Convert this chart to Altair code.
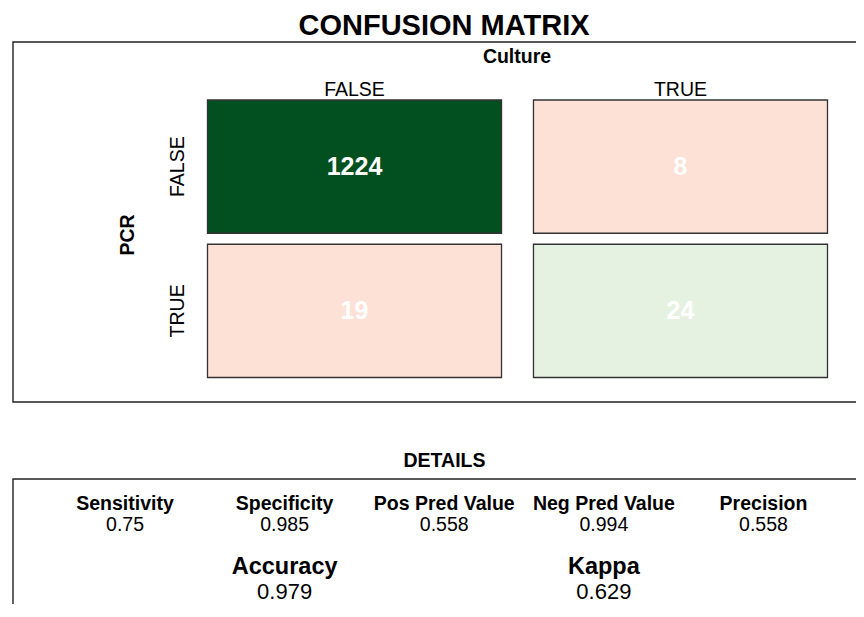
import altair as alt
import pandas as pd

# ---------------- data ----------------
culture_levels = ["FALSE", "TRUE"]
pcr_levels = ["FALSE", "TRUE"]
cell_culture = ["FALSE", "TRUE", "FALSE", "TRUE"]
cell_pcr = ["FALSE", "FALSE", "TRUE", "TRUE"]
cell_counts = [1224, 8, 19, 24]

detail_names = ["Sensitivity", "Specificity", "Pos Pred Value", "Neg Pred Value", "Precision"]
detail_values = [0.75, 0.985, 0.558, 0.994, 0.558]
overall_names = ["Accuracy", "Kappa"]
overall_values = [0.979, 0.629]

# ---------------- styles ----------------
FONT = "Liberation Sans"
cell_keys = [c + "|" + p for c, p in zip(cell_culture, cell_pcr)]
cell_colors = ["#024f20", "#fde1d6", "#fde1d6", "#e6f2e1"]

cells = pd.DataFrame({"Culture": cell_culture, "PCR": cell_pcr,
                      "count": cell_counts, "key": cell_keys})
cols = pd.DataFrame({"Culture": culture_levels})
rows = pd.DataFrame({"PCR": pcr_levels})
details = pd.DataFrame({"name": detail_names, "value": detail_values,
                        "col": list(range(1, len(detail_names) + 1))})
overall = pd.DataFrame({"name": overall_names, "value": overall_values,
                        "col": [2, 4]})

x_cell = alt.Scale(type="band", domain=culture_levels, range=[199.5, 819.5],
                   paddingInner=0.098, paddingOuter=0)
y_cell = alt.Scale(type="band", domain=pcr_levels, range=[92, 369.5],
                   paddingInner=0.076, paddingOuter=0)
x_det = alt.Scale(type="linear", domain=[1, 5], range=[117, 755.5], zero=False, nice=False)

one = alt.Data(values=[{"t": ""}])

def label(text, x, y, size, bold=False, angle=0):
    return alt.Chart(alt.Data(values=[{"t": text}])).mark_text(
        font=FONT, fontSize=size, fontWeight="bold" if bold else "normal",
        align="center", baseline="alphabetic", angle=angle, color="black"
    ).encode(x=alt.value(x), y=alt.value(y), text="t:N")

frame_top = alt.Chart(one).mark_rect(fill="white", fillOpacity=0, stroke="#222", strokeWidth=1.4).encode(
    x=alt.value(5), x2=alt.value(920), y=alt.value(34), y2=alt.value(394))
frame_det = alt.Chart(one).mark_rect(fill="white", fillOpacity=0, stroke="#222", strokeWidth=1.4).encode(
    x=alt.value(5), x2=alt.value(920), y=alt.value(471), y2=alt.value(720))

rects = alt.Chart(cells).mark_rect(stroke="#333", strokeWidth=1.3).encode(
    x=alt.X("Culture:N", scale=x_cell, axis=None),
    y=alt.Y("PCR:N", scale=y_cell, axis=None),
    fill=alt.Fill("key:N", scale=alt.Scale(domain=cell_keys, range=cell_colors), legend=None),
)
counts = alt.Chart(cells).mark_text(font=FONT, fontSize=25, fontWeight="bold",
                                    color="white", baseline="middle").encode(
    x=alt.X("Culture:N", scale=x_cell, axis=None),
    y=alt.Y("PCR:N", scale=y_cell, axis=None),
    text=alt.Text("count:Q", format="d"),
)
col_labels = alt.Chart(cols).mark_text(font=FONT, fontSize=19.5, color="black",
                                       baseline="alphabetic").encode(
    x=alt.X("Culture:N", scale=x_cell, axis=None),
    y=alt.value(88),
    text="Culture:N",
)
row_labels = alt.Chart(rows).mark_text(font=FONT, fontSize=19.5, color="black",
                                       baseline="alphabetic", angle=270, align="center").encode(
    y=alt.Y("PCR:N", scale=y_cell, axis=None),
    x=alt.value(175.5),
    text="PCR:N",
)

det_names = alt.Chart(details).mark_text(font=FONT, fontSize=19.5, fontWeight="bold",
                                         color="black", baseline="alphabetic").encode(
    x=alt.X("col:Q", scale=x_det, axis=None), y=alt.value(502), text="name:N")
det_vals = alt.Chart(details).mark_text(font=FONT, fontSize=19.5, color="black",
                                        baseline="alphabetic").encode(
    x=alt.X("col:Q", scale=x_det, axis=None), y=alt.value(523),
    text=alt.Text("value:Q", format=".3~f"))
ov_names = alt.Chart(overall).mark_text(font=FONT, fontSize=23.5, fontWeight="bold",
                                        color="black", baseline="alphabetic").encode(
    x=alt.X("col:Q", scale=x_det, axis=None), y=alt.value(566), text="name:N")
ov_vals = alt.Chart(overall).mark_text(font=FONT, fontSize=22, color="black",
                                       baseline="alphabetic").encode(
    x=alt.X("col:Q", scale=x_det, axis=None), y=alt.value(590.5),
    text=alt.Text("value:Q", format=".3~f"))

chart = alt.layer(
    frame_top, frame_det,
    rects, counts, col_labels, row_labels,
    label("CONFUSION MATRIX", 436, 27, 29, bold=True),
    label("Culture", 509, 55, 19.5, bold=True),
    label("PCR", 125.5, 227, 19.5, bold=True, angle=270),
    label("DETAILS", 436.5, 459, 19.5, bold=True),
    det_names, det_vals, ov_names, ov_vals,
).resolve_scale(
    x="independent", y="independent", fill="independent"
).properties(
    width=848, height=596, padding=0,
    autosize=alt.AutoSizeParams(type="none"),
    background="white",
).configure_view(strokeWidth=0)

chart.save("out.html", embed_options={"renderer": "svg", "actions": False})
